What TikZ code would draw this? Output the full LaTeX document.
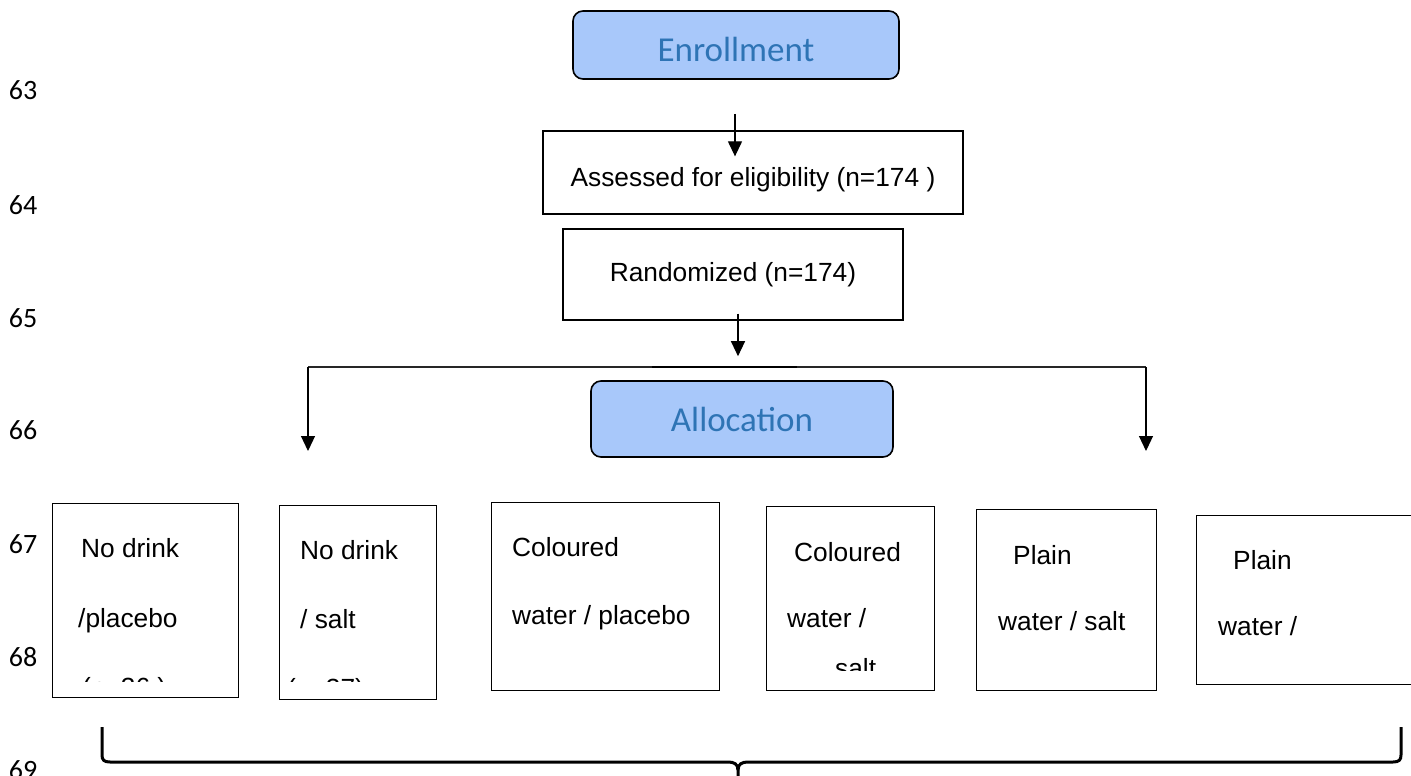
\documentclass[tikz,border=0pt]{standalone}
\usepackage{fontspec}
\setmainfont{Liberation Sans}
\newfontfamily\calfont{Carlito}
\usetikzlibrary{arrows.meta, positioning}
\definecolor{phaseblue}{RGB}{168,200,250}
\definecolor{phasetext}{RGB}{46,116,181}

\begin{document}
\begin{tikzpicture}[x=1pt, y=-1pt]
    \tikzset{
        phase/.style = {rectangle, rounded corners=10pt, draw, line width=1.6pt, fill=phaseblue, text=phasetext, font=\calfont\fontsize{35}{40}\selectfont, inner sep=0pt},
        box/.style = {rectangle, draw, line width=1.3pt, inner sep=0pt, font=\fontsize{26.3}{30}\selectfont},
        arm/.style = {rectangle, draw, line width=1.3pt, inner sep=0pt, anchor=north west},
        txt/.style = {anchor=base west, inner sep=0pt, font=\fontsize{26.3}{30}\selectfont},
        lineno/.style = {inner sep=0pt, font=\calfont\fontsize{28}{30}\selectfont},
        bar/.style = {draw, line width=1.2pt, black!85},
        brace/.style = {draw, line width=3pt},
        line/.style = {draw, line width=1.2pt, -{Triangle[length=15pt, width=14pt]}}
    }
    \useasboundingbox (0,0) rectangle (1411,776);

    % line numbers
    \foreach \n/\y in {63/90, 64/205, 65/318, 66/430, 67/544, 68/657, 69/770}
        \node[lineno] (ln\n) at (23,\y) {\n};

    % enrollment
    \node[phase, minimum width=326pt, minimum height=68pt, text height=34pt, text depth=0pt] (enroll) at (736,45) {Enrollment};
    \node[box, minimum width=420pt, minimum height=83pt, text height=28pt, text depth=0pt] (assess) at (753,172.5) {Assessed for eligibility (n=174 )};
    \node[box, minimum width=340pt, minimum height=91pt] (random) at (733,274.5) {Randomized (n=174)};

    % allocation
    \node[phase, minimum width=302pt, minimum height=76pt] (alloc) at (742,419) {Allocation};

    \coordinate (bar-l) at (308,367);
    \coordinate (bar-r) at (1146,367);
    \coordinate (mid-a) at (652,367);
    \coordinate (mid-b) at (797,367);
    \coordinate (to-l) at (308,451);
    \coordinate (to-r) at (1146,451);

    \path[line] ([xshift=-1pt, yshift=-34pt]enroll.south) -- ([xshift=-18pt, yshift=-26pt]assess.north);
    \path[line] ([xshift=5pt, yshift=7pt]random.south) -- ([xshift=-4pt, yshift=24pt]alloc.north);
    \path[bar] (bar-l) -- (bar-r);
    \path[draw, line width=2.4pt] (mid-a) -- (mid-b);
    \path[line] (bar-l) -- (to-l);
    \path[line] (bar-r) -- (to-r);

    % groups
    \node[arm, minimum width=186pt, minimum height=194pt] (g1) at (52,503) {};
    \node[arm, minimum width=157pt, minimum height=194pt] (g2) at (279,505) {};
    \node[arm, minimum width=228pt, minimum height=188pt] (g3) at (491,502) {};
    \node[arm, minimum width=168pt, minimum height=184pt] (g4) at (766,506) {};
    \node[arm, minimum width=180pt, minimum height=181pt] (g5) at (976,509) {};
    \node[arm, minimum width=218pt, minimum height=169pt] (g6) at (1196,515) {};

    \node[txt] (g1a) at (81,557) {No drink};
    \node[txt] (g1b) at (78,627) {/placebo};
    \node[txt] (g2a) at (300,559) {No drink};
    \node[txt] (g2b) at (300,628) {/ salt};
    \node[txt] (g3a) at (512,556) {Coloured};
    \node[txt] (g3b) at (512,624) {water / placebo};
    \node[txt] (g4a) at (794,561) {Coloured};
    \node[txt] (g4b) at (787,627) {water /};
    \node[txt] (g5a) at (1013,564) {Plain};
    \node[txt] (g5b) at (998,630) {water / salt};
    \node[txt] (g6a) at (1233,569) {Plain};
    \node[txt] (g6b) at (1218,635) {water /};

    \begin{scope}
        \clip (0,0) rectangle (1411,681);
        \node[txt] (g1c) at (82,696) {(n=36 )};
        \node[txt] (g2c) at (287,697) {(n=37)};
    \end{scope}
    \begin{scope}
        \clip (0,0) rectangle (1411,670);
        \node[txt] (g4c) at (835,677) {salt};
    \end{scope}

    % brace under the groups
    \path[brace] (102,727) -- (102,755) .. controls (102,760) and (104,762) .. (110,762) -- (728,762) .. controls (734,762) and (738,764) .. (738,770) -- (738,780);
    \path[brace] (1401,727) -- (1401,755) .. controls (1401,760) and (1399,762) .. (1393,762) -- (748,762) .. controls (742,762) and (738,764) .. (738,770);
\end{tikzpicture}
\end{document}
